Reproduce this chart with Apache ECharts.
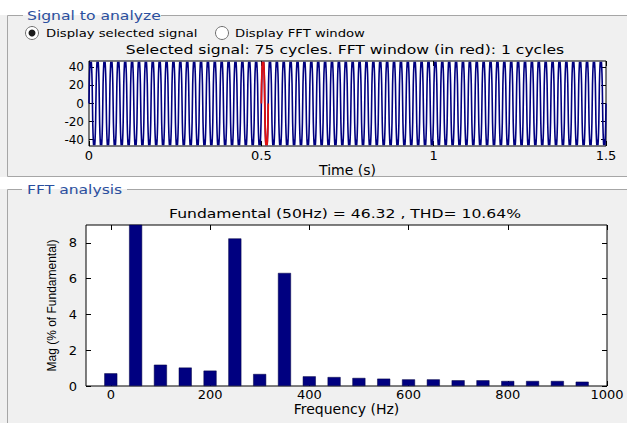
<!DOCTYPE html>
<html>
<head>
<meta charset="utf-8">
<title>FFT analysis</title>
<script src="https://cdn.jsdelivr.net/npm/echarts@6.0.0/dist/echarts.min.js"></script>
<style>
  html, body { margin: 0; padding: 0; background: #fff; }
  #chart { width: 627px; height: 423px; }
</style>
</head>
<body>
<div id="chart"></div>
<script>
// signal to analyze
const signalCycles = 75
const signalDuration = 1.5
const fftWindowStart = 0.5
const fftWindowCycles = 1
// one period of the waveform, estimated from the plot
const cycleShape = [0, 21, 33, 41, 46, 44, 40, 44, 46, 41, 33, 21,
                    0, -21, -33, -41, -46, -44, -40, -44, -46, -41, -33, -21]
const timeTicks = [0, 0.5, 1, 1.5]
const signalTicks = [-40, -20, 0, 20, 40]

// FFT analysis
const harmonicFreqs = [0, 50, 100, 150, 200, 250, 300, 350, 400, 450,
                       500, 550, 600, 650, 700, 750, 800, 850, 900, 950]
const harmonicMags = [0.71, 100, 1.19, 1.03, 0.86, 8.25, 0.67, 6.32, 0.54, 0.50,
                      0.45, 0.41, 0.37, 0.37, 0.32, 0.32, 0.28, 0.28, 0.28, 0.24]
const freqTicks = [0, 200, 400, 600, 800, 1000]
const magTicks = [0, 2, 4, 6, 8]

const period = signalDuration / signalCycles
const buildCycles = (first, count) => {
  const pts = []
  for (let k = first; k < first + count; k++) {
    cycleShape.forEach((v, j) => pts.push([(k + j / cycleShape.length) * period, v]))
  }
  pts.push([(first + count) * period, cycleShape[0]])
  return pts
}
const signalData = buildCycles(0, signalCycles)
const windowData = buildCycles(Math.round(fftWindowStart / period), fftWindowCycles)

const FONT = 'DejaVu Sans'
const GRAY = '#f0f0f0'
const EDGE = '#a6a6a6'
const BLUE_T = '#2b4f9e'
const STRETCH = 1.2   // the original UI font is drawn wide

const chart = echarts.init(document.getElementById('chart'), null, { renderer: 'svg' })

const frameLine = (x1, y1, x2, y2) => ({
  type: 'line', z: -5, silent: true,
  shape: { x1, y1, x2, y2 }, style: { stroke: EDGE, lineWidth: 1 }
})
const label = (x, y, text, size, color, align) => ({
  type: 'text', x, y, z: 5, silent: true, scaleX: STRETCH,
  style: { text, fontFamily: FONT, fontSize: size, fill: color || '#000',
           align: align || 'left', verticalAlign: 'middle' }
})
const plainNum = v => String(v)
const axisText = { fontFamily: FONT, fontSize: 13, color: '#000' }
const tickStyle = (ticks) => ({ inside: true, length: 5, customValues: ticks, lineStyle: { color: '#000' } })
const tickOnlyAxis = (gridIndex, min, max, ticks, pos) => ({
  type: 'value', gridIndex, min, max, position: pos,
  splitLine: { show: false },
  axisLine: { show: false, onZero: false },
  axisTick: tickStyle(ticks),
  axisLabel: { show: false }
})

chart.setOption({
  animation: false,
  backgroundColor: '#fff',
  graphic: [
    // group boxes
    { type: 'rect', z: -10, silent: true, shape: { x: 0, y: 15, width: 627, height: 162 }, style: { fill: GRAY } },
    { type: 'rect', z: -10, silent: true, shape: { x: 0, y: 189, width: 627, height: 234 }, style: { fill: GRAY } },
    frameLine(7.5, 15.5, 23, 15.5), frameLine(161, 15.5, 627, 15.5),
    frameLine(7.5, 15.5, 7.5, 176.5), frameLine(7.5, 176.5, 627, 176.5),
    frameLine(7.5, 189.5, 22, 189.5), frameLine(127, 189.5, 627, 189.5),
    frameLine(7.5, 189.5, 7.5, 423),
    label(27, 15, 'Signal to analyze', 13, BLUE_T),
    label(27, 189, 'FFT analysis', 13, BLUE_T),
    // radio buttons
    { type: 'circle', z: 5, silent: true, shape: { cx: 32, cy: 33, r: 6.5 }, style: { fill: '#fff', stroke: '#6f6f6f', lineWidth: 1 } },
    { type: 'circle', z: 6, silent: true, shape: { cx: 32, cy: 33, r: 3.5 }, style: { fill: '#1a1a1a' } },
    label(46, 33, 'Display selected signal', 11),
    { type: 'circle', z: 5, silent: true, shape: { cx: 222, cy: 33, r: 6.5 }, style: { fill: '#fff', stroke: '#6f6f6f', lineWidth: 1 } },
    label(235, 33, 'Display FFT window', 11),
    // plot titles
    label(345, 49, 'Selected signal: ' + signalCycles + ' cycles. FFT window (in red): ' + fftWindowCycles + ' cycles', 13, '#000', 'center'),
    label(345, 213, 'Fundamental (50Hz) = 46.32 , THD= 10.64%', 13, '#000', 'center')
  ],
  grid: [
    { left: 89, top: 61, width: 517, height: 85, show: true, backgroundColor: '#fff', borderColor: '#000', borderWidth: 1 },
    { left: 86, top: 225, width: 521, height: 161, show: true, backgroundColor: '#fff', borderColor: '#000', borderWidth: 1 }
  ],
  xAxis: [
    {
      type: 'value', gridIndex: 0, min: 0, max: signalDuration,
      name: 'Time (s)', nameLocation: 'middle', nameGap: 14,
      nameTextStyle: { fontFamily: FONT, fontSize: 14, color: '#000' },
      splitLine: { show: false }, axisLine: { show: false, onZero: false },
      axisTick: tickStyle(timeTicks),
      axisLabel: { customValues: timeTicks, formatter: plainNum, margin: 3, ...axisText }
    },
    {
      type: 'value', gridIndex: 1, min: -50, max: 1000,
      name: 'Frequency (Hz)', nameLocation: 'middle', nameGap: 14,
      nameTextStyle: { fontFamily: FONT, fontSize: 14, color: '#000' },
      splitLine: { show: false }, axisLine: { show: false, onZero: false },
      axisTick: tickStyle(freqTicks),
      axisLabel: { customValues: freqTicks, formatter: plainNum, margin: 2, ...axisText }
    },
    tickOnlyAxis(0, 0, signalDuration, timeTicks, 'top'),
    tickOnlyAxis(1, -50, 1000, freqTicks, 'top')
  ],
  yAxis: [
    {
      type: 'value', gridIndex: 0, min: -47, max: 47,
      splitLine: { show: false }, axisLine: { show: false, onZero: false },
      axisTick: tickStyle(signalTicks),
      axisLabel: { customValues: signalTicks, formatter: plainNum, margin: 5, ...axisText, fontSize: 12 }
    },
    {
      type: 'value', gridIndex: 1, min: 0, max: 9,
      name: 'Mag (% of Fundamental)', nameLocation: 'middle', nameGap: 27,
      nameTextStyle: { fontFamily: 'Liberation Sans', fontSize: 12, color: '#000' },
      splitLine: { show: false }, axisLine: { show: false, onZero: false },
      axisTick: tickStyle(magTicks),
      axisLabel: { customValues: magTicks, formatter: plainNum, margin: 9, ...axisText }
    },
    tickOnlyAxis(0, -47, 47, signalTicks, 'right'),
    tickOnlyAxis(1, 0, 9, magTicks, 'right')
  ],
  series: [
    {
      name: 'signal', type: 'line', xAxisIndex: 0, yAxisIndex: 0,
      data: signalData, symbol: 'none', silent: true,
      lineStyle: { color: '#000080', width: 1.6 }
    },
    {
      name: 'FFT window', type: 'line', xAxisIndex: 0, yAxisIndex: 0,
      data: windowData, symbol: 'none', silent: true, z: 3,
      lineStyle: { color: '#e01010', width: 1.8 }
    },
    {
      name: 'harmonics', type: 'bar', xAxisIndex: 1, yAxisIndex: 1,
      data: harmonicFreqs.map((f, i) => [f, harmonicMags[i]]),
      barWidth: 13, clip: true, silent: true,
      itemStyle: { color: '#000080', borderColor: '#000040', borderWidth: 0.5 }
    }
  ]
})
</script>
</body>
</html>
